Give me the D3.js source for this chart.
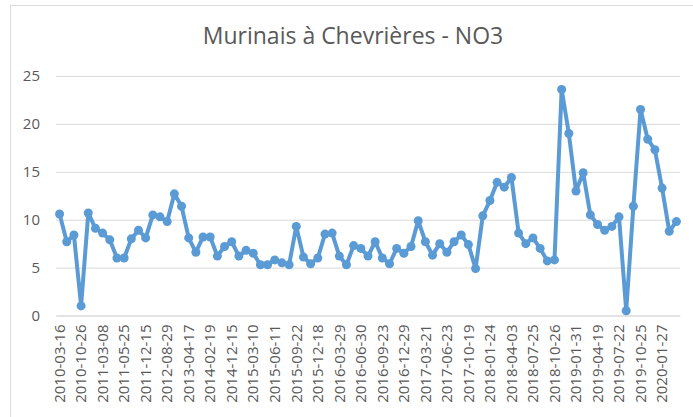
<!DOCTYPE html>
<html>
<head>
<meta charset="utf-8">
<script src="https://cdn.jsdelivr.net/npm/d3@7"></script>
<style>
  html, body { margin: 0; padding: 0; background: #fff; }
  svg { display: block; }
</style>
</head>
<body>
<svg id="chart" width="693" height="417"></svg>
<script>
const title = "Murinais à Chevrières - NO3";
const tickLabels = [
  "2010-03-16","2010-10-26","2011-03-08","2011-05-25","2011-12-15","2012-08-29",
  "2013-04-17","2014-02-19","2014-12-15","2015-03-10","2015-06-11","2015-09-22",
  "2015-12-18","2016-03-29","2016-06-30","2016-09-23","2016-12-29","2017-03-21",
  "2017-06-23","2017-10-19","2018-01-24","2018-04-03","2018-07-25","2018-10-26",
  "2019-01-31","2019-04-19","2019-07-22","2019-10-25","2020-01-27"
];
const labelEvery = 3;
const values = [
  10.6, 7.7, 8.4, 1.0, 10.7, 9.1, 8.6, 7.9, 6.0, 6.0,
  8.0, 8.9, 8.1, 10.5, 10.3, 9.8, 12.7, 11.4, 8.1, 6.6,
  8.2, 8.2, 6.2, 7.2, 7.7, 6.2, 6.8, 6.5, 5.3, 5.3,
  5.8, 5.5, 5.3, 9.3, 6.1, 5.4, 6.0, 8.5, 8.6, 6.2,
  5.3, 7.3, 7.0, 6.2, 7.7, 6.0, 5.4, 7.0, 6.5, 7.2,
  9.9, 7.7, 6.3, 7.5, 6.6, 7.7, 8.4, 7.4, 4.9, 10.4,
  12.0, 13.9, 13.4, 14.4, 8.6, 7.5, 8.1, 7.0, 5.7, 5.8,
  23.6, 19.0, 13.0, 14.9, 10.5, 9.5, 8.9, 9.3, 10.3, 0.5,
  11.4, 21.5, 18.4, 17.3, 13.3, 8.8, 9.8
];
const yTicks = [0, 5, 10, 15, 20, 25];

(function () {
const svg = d3.select("#chart");
const font = "'Open Sans', 'Liberation Sans', sans-serif";
const textColor = "#595959";
const gridColor = "#d9d9d9";
const lineColor = "#5b9bd5";

// frame
svg.append("rect")
  .attr("x", 10.5).attr("y", 5.5)
  .attr("width", 700).attr("height", 430)
  .attr("fill", "#fff").attr("stroke", gridColor).attr("stroke-width", 1);

// title
svg.append("text")
  .attr("x", 353).attr("y", 44)
  .attr("text-anchor", "middle")
  .attr("font-family", font).attr("font-size", 23)
  .attr("fill", textColor)
  .text(title);

const pLeft = 56, pRight = 680, pTop = 76, pBottom = 315.5;
const idx = d3.range(values.length);
const x = d3.scaleBand().domain(idx).range([pLeft, pRight]).padding(0);
const cx = i => x(i) + x.bandwidth() / 2;
const y = d3.scaleLinear().domain([0, 25]).range([pBottom, pTop]);

// grid + y labels
const yAxis = d3.axisLeft(y).tickValues(yTicks).tickSize(-(pRight - pLeft)).tickPadding(16);
const gy = svg.append("g").attr("transform", `translate(${pLeft},0)`).call(yAxis);
gy.select(".domain").remove();
gy.selectAll(".tick line").attr("stroke", gridColor).attr("stroke-width", 1);
gy.selectAll(".tick text").attr("font-family", font).attr("font-size", 15).attr("fill", textColor);

// x axis labels
const xAxis = d3.axisBottom(x)
  .tickValues(idx.filter(i => i % labelEvery === 0))
  .tickFormat(i => tickLabels[i / labelEvery])
  .tickSize(0).tickPadding(0);
const gx = svg.append("g").attr("transform", `translate(0,${pBottom})`).call(xAxis);
gx.select(".domain").attr("stroke", gridColor);
gx.selectAll(".tick text")
  .attr("font-family", font).attr("font-size", 15).attr("fill", textColor)
  .attr("transform", "rotate(-90)")
  .attr("text-anchor", "end")
  .attr("x", -9).attr("y", 0).attr("dy", "0.35em");

// line
const line = d3.line().x((d, i) => cx(i)).y(d => y(d));
svg.append("path")
  .datum(values)
  .attr("fill", "none").attr("stroke", lineColor)
  .attr("stroke-width", 4).attr("stroke-linejoin", "round")
  .attr("d", line);

svg.append("g").selectAll("circle")
  .data(values).join("circle")
  .attr("cx", (d, i) => cx(i)).attr("cy", d => y(d))
  .attr("r", 4.5).attr("fill", lineColor);
})();
</script>
</body>
</html>
